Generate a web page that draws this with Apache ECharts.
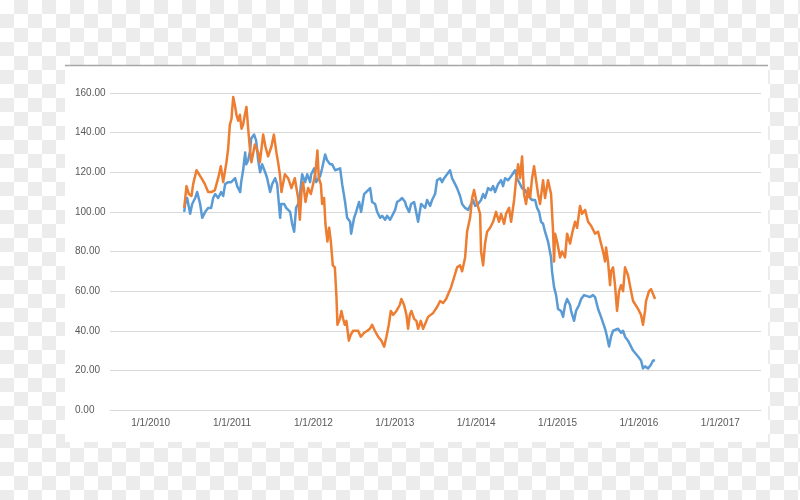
<!DOCTYPE html>
<html>
<head>
<meta charset="utf-8">
<script src="https://cdn.jsdelivr.net/npm/echarts@6/dist/echarts.min.js"></script>
<style>
  html, body { margin: 0; padding: 0; }
  body {
    width: 800px; height: 500px; overflow: hidden;
    background-color: #ffffff;
    background-image:
      linear-gradient(45deg, #ececec 25%, transparent 25%, transparent 75%, #ececec 75%),
      linear-gradient(45deg, #ececec 25%, transparent 25%, transparent 75%, #ececec 75%);
    background-size: 28px 28px;
    background-position: 0 0, 14px 14px;
  }
  #chart { width: 800px; height: 500px; }
</style>
</head>
<body>
<div id="chart"></div>
<script>
// x values are dates expressed as decimal years
const yearTicks = [2010, 2011, 2012, 2013, 2014, 2015, 2016, 2017];
const yTicks = [0, 20, 40, 60, 80, 100, 120, 140, 160];

const blueSeries = [[2010.412,100],[2010.424,104],[2010.448,107],[2010.485,99],[2010.510,104],[2010.547,107],[2010.571,110],[2010.608,104],[2010.633,97],[2010.670,100],[2010.706,102],[2010.743,102],[2010.768,107],[2010.792,109],[2010.829,107],[2010.866,110],[2010.891,108],[2010.915,114],[2010.952,115],[2010.989,115],[2011.038,117],[2011.063,113],[2011.100,110],[2011.112,115],[2011.136,121],[2011.161,130],[2011.173,124],[2011.198,126],[2011.222,131],[2011.235,137],[2011.271,139],[2011.296,136],[2011.321,126],[2011.345,120],[2011.370,124],[2011.407,120],[2011.431,117],[2011.468,110],[2011.493,114],[2011.529,117],[2011.554,114],[2011.591,97],[2011.603,104],[2011.640,104],[2011.665,102],[2011.714,100],[2011.738,94],[2011.763,90],[2011.787,102],[2011.824,105],[2011.861,119],[2011.898,115],[2011.923,119],[2011.959,115],[2011.972,119],[2012.009,122],[2012.033,115],[2012.082,118],[2012.107,122],[2012.144,129],[2012.168,126],[2012.205,124],[2012.230,124],[2012.267,121],[2012.291,120],[2012.328,122],[2012.353,114],[2012.389,105],[2012.414,97],[2012.451,95],[2012.463,89],[2012.500,97],[2012.525,100],[2012.561,105],[2012.586,100],[2012.623,109],[2012.647,110],[2012.697,112],[2012.721,105],[2012.758,104],[2012.783,100],[2012.819,97],[2012.844,98],[2012.881,96],[2012.905,98],[2012.942,96],[2012.967,98],[2013.004,101],[2013.028,105],[2013.065,106],[2013.090,107],[2013.127,105],[2013.139,103],[2013.176,100],[2013.200,104],[2013.237,105],[2013.262,100],[2013.286,95],[2013.323,104],[2013.372,102],[2013.397,106],[2013.434,103],[2013.458,106],[2013.495,109],[2013.520,116],[2013.557,117],[2013.581,115],[2013.606,117],[2013.630,116],[2013.679,121],[2013.704,117],[2013.741,114],[2013.765,112],[2013.802,108],[2013.827,104],[2013.864,102],[2013.901,101],[2013.937,104],[2013.962,106],[2013.987,103],[2014.023,104],[2014.060,106],[2014.085,109],[2014.109,107],[2014.146,112],[2014.183,111],[2014.208,113],[2014.232,110],[2014.269,114],[2014.306,116],[2014.330,113],[2014.355,117],[2014.392,116],[2014.429,118],[2014.453,119],[2014.478,121],[2014.502,117],[2014.539,114],[2014.564,112],[2014.601,111],[2014.625,109],[2014.662,107],[2014.687,106],[2014.724,106],[2014.748,102],[2014.773,100],[2014.797,95],[2014.822,94],[2014.846,90],[2014.883,85],[2014.920,77],[2014.932,70],[2014.957,62],[2014.982,58],[2015.006,51],[2015.043,50],[2015.068,47],[2015.092,53],[2015.117,56],[2015.154,53],[2015.166,50],[2015.203,45],[2015.227,50],[2015.264,53],[2015.289,56],[2015.326,58],[2015.350,58],[2015.399,57],[2015.436,58],[2015.461,57],[2015.498,51],[2015.534,47],[2015.559,44],[2015.584,41],[2015.608,37],[2015.633,32],[2015.657,37],[2015.682,40],[2015.706,39],[2015.743,41],[2015.780,39],[2015.805,40],[2015.829,37],[2015.866,35],[2015.903,32],[2015.928,30],[2015.952,29],[2015.989,27],[2016.026,25],[2016.050,21],[2016.075,22],[2016.112,21],[2016.149,23],[2016.173,25],[2016.198,25]];

const orangeSeries = [[2010.412,102],[2010.440,113],[2010.469,109],[2010.501,108],[2010.522,114],[2010.563,121],[2010.584,122],[2010.624,117],[2010.666,114],[2010.706,110],[2010.747,110],[2010.789,111],[2010.829,117],[2010.862,123],[2010.891,115],[2010.931,125],[2010.952,132],[2010.973,144],[2010.993,147],[2011.014,158],[2011.034,154],[2011.054,149],[2011.075,146],[2011.096,149],[2011.116,142],[2011.136,144],[2011.157,149],[2011.177,153],[2011.198,142],[2011.219,132],[2011.238,125],[2011.280,134],[2011.321,130],[2011.342,125],[2011.382,139],[2011.410,133],[2011.443,128],[2011.484,133],[2011.514,139],[2011.545,130],[2011.566,125],[2011.587,119],[2011.607,110],[2011.649,119],[2011.689,117],[2011.730,112],[2011.771,117],[2011.812,107],[2011.833,96],[2011.853,110],[2011.873,115],[2011.902,105],[2011.935,112],[2011.968,109],[2011.996,114],[2012.025,120],[2012.049,131],[2012.066,117],[2012.091,114],[2012.107,104],[2012.131,107],[2012.147,94],[2012.172,85],[2012.193,92],[2012.214,85],[2012.238,73],[2012.263,72],[2012.283,57],[2012.295,43],[2012.324,46],[2012.344,50],[2012.365,46],[2012.386,43],[2012.405,45],[2012.435,35],[2012.459,38],[2012.488,40],[2012.509,41],[2012.549,40],[2012.582,37],[2012.623,39],[2012.663,40],[2012.693,41],[2012.721,43],[2012.754,40],[2012.795,37],[2012.835,35],[2012.869,32],[2012.897,37],[2012.926,43],[2012.951,50],[2012.979,48],[2013.020,50],[2013.061,53],[2013.081,56],[2013.114,53],[2013.143,48],[2013.163,41],[2013.184,48],[2013.204,50],[2013.237,46],[2013.265,45],[2013.286,41],[2013.319,45],[2013.348,41],[2013.409,47],[2013.471,49],[2013.520,52],[2013.557,55],[2013.593,54],[2013.630,56],[2013.692,62],[2013.729,67],[2013.765,72],[2013.802,73],[2013.827,70],[2013.864,77],[2013.888,90],[2013.925,97],[2013.950,107],[2013.974,111],[2013.999,106],[2014.023,107],[2014.048,99],[2014.060,80],[2014.085,73],[2014.109,84],[2014.134,90],[2014.171,92],[2014.208,95],[2014.244,100],[2014.281,95],[2014.306,99],[2014.343,94],[2014.367,99],[2014.404,102],[2014.429,95],[2014.466,106],[2014.490,116],[2014.515,124],[2014.539,117],[2014.564,128],[2014.588,109],[2014.613,104],[2014.638,112],[2014.662,107],[2014.687,117],[2014.711,123],[2014.736,116],[2014.760,109],[2014.785,104],[2014.822,116],[2014.846,107],[2014.883,116],[2014.920,109],[2014.945,90],[2014.957,75],[2014.969,89],[2014.994,85],[2015.031,77],[2015.055,80],[2015.092,77],[2015.117,89],[2015.154,84],[2015.178,89],[2015.215,95],[2015.240,92],[2015.276,103],[2015.301,99],[2015.338,101],[2015.375,95],[2015.412,93],[2015.436,94],[2015.461,89],[2015.498,90],[2015.534,84],[2015.559,80],[2015.584,75],[2015.596,82],[2015.620,75],[2015.645,63],[2015.657,70],[2015.682,72],[2015.706,63],[2015.731,50],[2015.756,60],[2015.780,63],[2015.805,60],[2015.829,72],[2015.866,68],[2015.903,60],[2015.928,55],[2015.952,54],[2015.989,51],[2016.026,48],[2016.050,43],[2016.075,50],[2016.087,55],[2016.124,60],[2016.149,61],[2016.173,60],[2016.198,56]];

const chart = echarts.init(document.getElementById('chart'), null, { renderer: 'canvas' });
const labelFont = { color: '#595959', fontSize: 10, fontFamily: '"Liberation Sans", Arial, sans-serif' };

chart.setOption({
  animation: false,
  backgroundColor: 'transparent',
  graphic: [
    { type: 'rect', z: -10, shape: { x: 65, y: 65, width: 703, height: 377 }, style: { fill: '#ffffff' } },
    { type: 'line', z: -9, shape: { x1: 65, y1: 65.5, x2: 768, y2: 65.5 }, style: { stroke: '#a6a6a6', lineWidth: 1.5 } }
  ],
  grid: { left: 110, right: 39, top: 93, bottom: 90, containLabel: false },
  xAxis: {
    type: 'value',
    min: 2009.5,
    max: 2017.5,
    splitLine: { show: false },
    axisTick: { show: false },
    axisLine: { show: true, lineStyle: { color: '#d9d9d9', width: 1 } },
    axisLabel: Object.assign({
      customValues: yearTicks,
      margin: 8,
      formatter: v => '1/1/' + Math.round(v)
    }, labelFont)
  },
  yAxis: {
    type: 'value',
    min: yTicks[0],
    max: yTicks[yTicks.length - 1],
    interval: 20,
    axisLine: { show: false },
    axisTick: { show: false },
    splitLine: { lineStyle: { color: '#d9d9d9', width: 1 } },
    axisLabel: Object.assign({
      margin: 35,
      align: 'left',
      formatter: v => v.toFixed(2)
    }, labelFont)
  },
  series: [
    {
      type: 'line', data: blueSeries, showSymbol: false, symbol: 'none',
      lineStyle: { color: '#5B9BD5', width: 2.5, join: 'round' }, itemStyle: { color: '#5B9BD5' }
    },
    {
      type: 'line', data: orangeSeries, showSymbol: false, symbol: 'none',
      lineStyle: { color: '#ED7D31', width: 2.5, join: 'round' }, itemStyle: { color: '#ED7D31' }
    }
  ]
});
</script>
</body>
</html>
